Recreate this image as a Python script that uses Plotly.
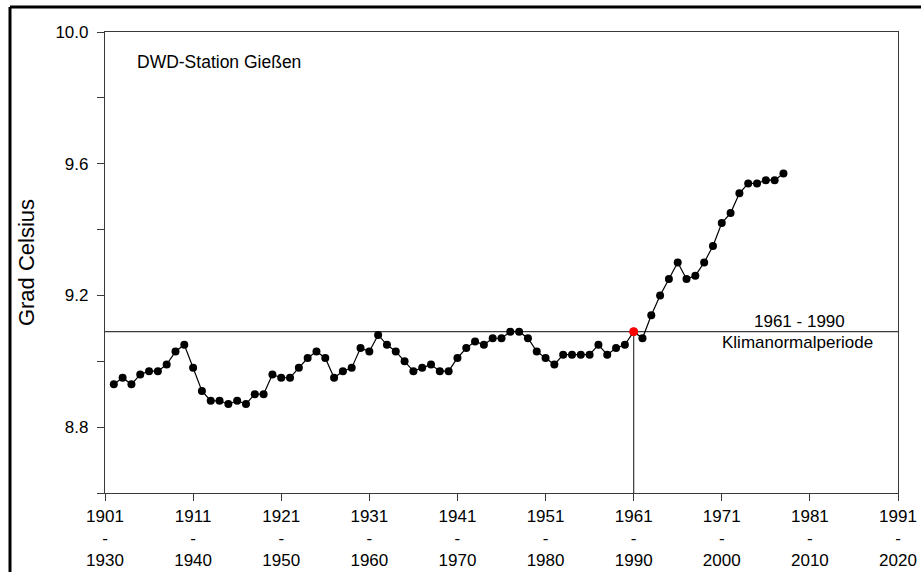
import plotly.graph_objects as go

# start years of the 30-year periods (1902-1931 ... 1978-2007)
years = list(range(1902, 1979))
temps = [
    8.93, 8.95, 8.93, 8.96, 8.97, 8.97, 8.99, 9.03, 9.05, 8.98,   # 1902-1911
    8.91, 8.88, 8.88, 8.87, 8.88, 8.87, 8.90, 8.90, 8.96, 8.95,   # 1912-1921
    8.95, 8.98, 9.01, 9.03, 9.01, 8.95, 8.97, 8.98, 9.04, 9.03,   # 1922-1931
    9.08, 9.05, 9.03, 9.00, 8.97, 8.98, 8.99, 8.97, 8.97, 9.01,   # 1932-1941
    9.04, 9.06, 9.05, 9.07, 9.07, 9.09, 9.09, 9.07, 9.03, 9.01,   # 1942-1951
    8.99, 9.02, 9.02, 9.02, 9.02, 9.05, 9.02, 9.04, 9.05, 9.09,   # 1952-1961
    9.07, 9.14, 9.20, 9.25, 9.30, 9.25, 9.26, 9.30, 9.35, 9.42,   # 1962-1971
    9.45, 9.51, 9.54, 9.54, 9.55, 9.55, 9.57                      # 1972-1978
]
ref_year = 1961
ref_value = 9.09

x_tickvals = list(range(1901, 1992, 10))
x_ticktext = [f"{y}<br>-<br>{y + 29}" for y in x_tickvals]
y_tickvals = [8.6, 8.8, 9.0, 9.2, 9.4, 9.6, 9.8, 10.0]
y_ticktext = ["", "8.8", "", "9.2", "", "9.6", "", "10.0"]

FONT = "Liberation Sans, Arial, sans-serif"
AX = "#3a3a3a"

fig = go.Figure()
fig.add_trace(go.Scatter(
    x=years, y=temps, mode="lines+markers",
    line=dict(color="black", width=1.2),
    marker=dict(color="black", size=8),
    showlegend=False, hoverinfo="x+y"))
fig.add_trace(go.Scatter(
    x=[ref_year], y=[ref_value], mode="markers",
    marker=dict(color="#ff0000", size=9),
    showlegend=False))

# reference lines
fig.add_shape(type="line", xref="paper", yref="y", x0=0, x1=1,
              y0=ref_value, y1=ref_value, line=dict(color=AX, width=1.2), layer="below")
fig.add_shape(type="line", xref="x", yref="y", x0=ref_year, x1=ref_year,
              y0=8.6, y1=ref_value, line=dict(color=AX, width=1.2), layer="below")

# outer frame (top and left only)
fig.add_shape(type="line", xref="paper", yref="paper", x0=-0.1198, x1=1.06,
              y0=1.0542, y1=1.0542, line=dict(color="black", width=3))
fig.add_shape(type="line", xref="paper", yref="paper", x0=-0.1198, x1=-0.1198,
              y0=1.0542, y1=-0.25, line=dict(color="black", width=3))

fig.add_annotation(text="DWD-Station Gießen", xref="paper", yref="paper",
                   x=0.0378, y=0.935, xanchor="left", yanchor="middle",
                   showarrow=False, font=dict(size=17.5, color="black", family=FONT))
fig.add_annotation(text="1961 - 1990", xref="paper", yref="y",
                   x=0.876, y=ref_value, xanchor="center", yanchor="bottom", yshift=-1,
                   showarrow=False, font=dict(size=17, color="black", family=FONT))
fig.add_annotation(text="Klimanormalperiode", xref="paper", yref="y",
                   x=0.873, y=ref_value, xanchor="center", yanchor="top", yshift=1,
                   showarrow=False, font=dict(size=17, color="black", family=FONT))

fig.update_layout(
    width=921, height=572,
    margin=dict(l=105, r=23, t=32, b=79),
    paper_bgcolor="white", plot_bgcolor="white",
    font=dict(family=FONT, color="black", size=16),
    xaxis=dict(range=[1901, 1991], tickmode="array", tickvals=x_tickvals,
               ticktext=x_ticktext, ticks="outside", ticklen=7, tickcolor=AX,
               showline=True, linecolor=AX, linewidth=1.2, mirror=True,
               showgrid=False, zeroline=False, tickfont=dict(size=17),
               automargin=False),
    yaxis=dict(range=[8.6, 10.0], tickmode="array", tickvals=y_tickvals,
               ticktext=y_ticktext, ticks="outside", ticklen=7, tickcolor=AX,
               showline=True, linecolor=AX, linewidth=1.2, mirror=True,
               showgrid=False, zeroline=False, tickfont=dict(size=17),
               ticklabelstandoff=5, automargin=False,
               title=dict(text="Grad Celsius", font=dict(size=22), standoff=14)),
)

fig.write_html("out.html",
               config={"displayModeBar": False},
               post_script="document.body.style.margin='0';"
                           "document.documentElement.style.overflow='hidden';")
